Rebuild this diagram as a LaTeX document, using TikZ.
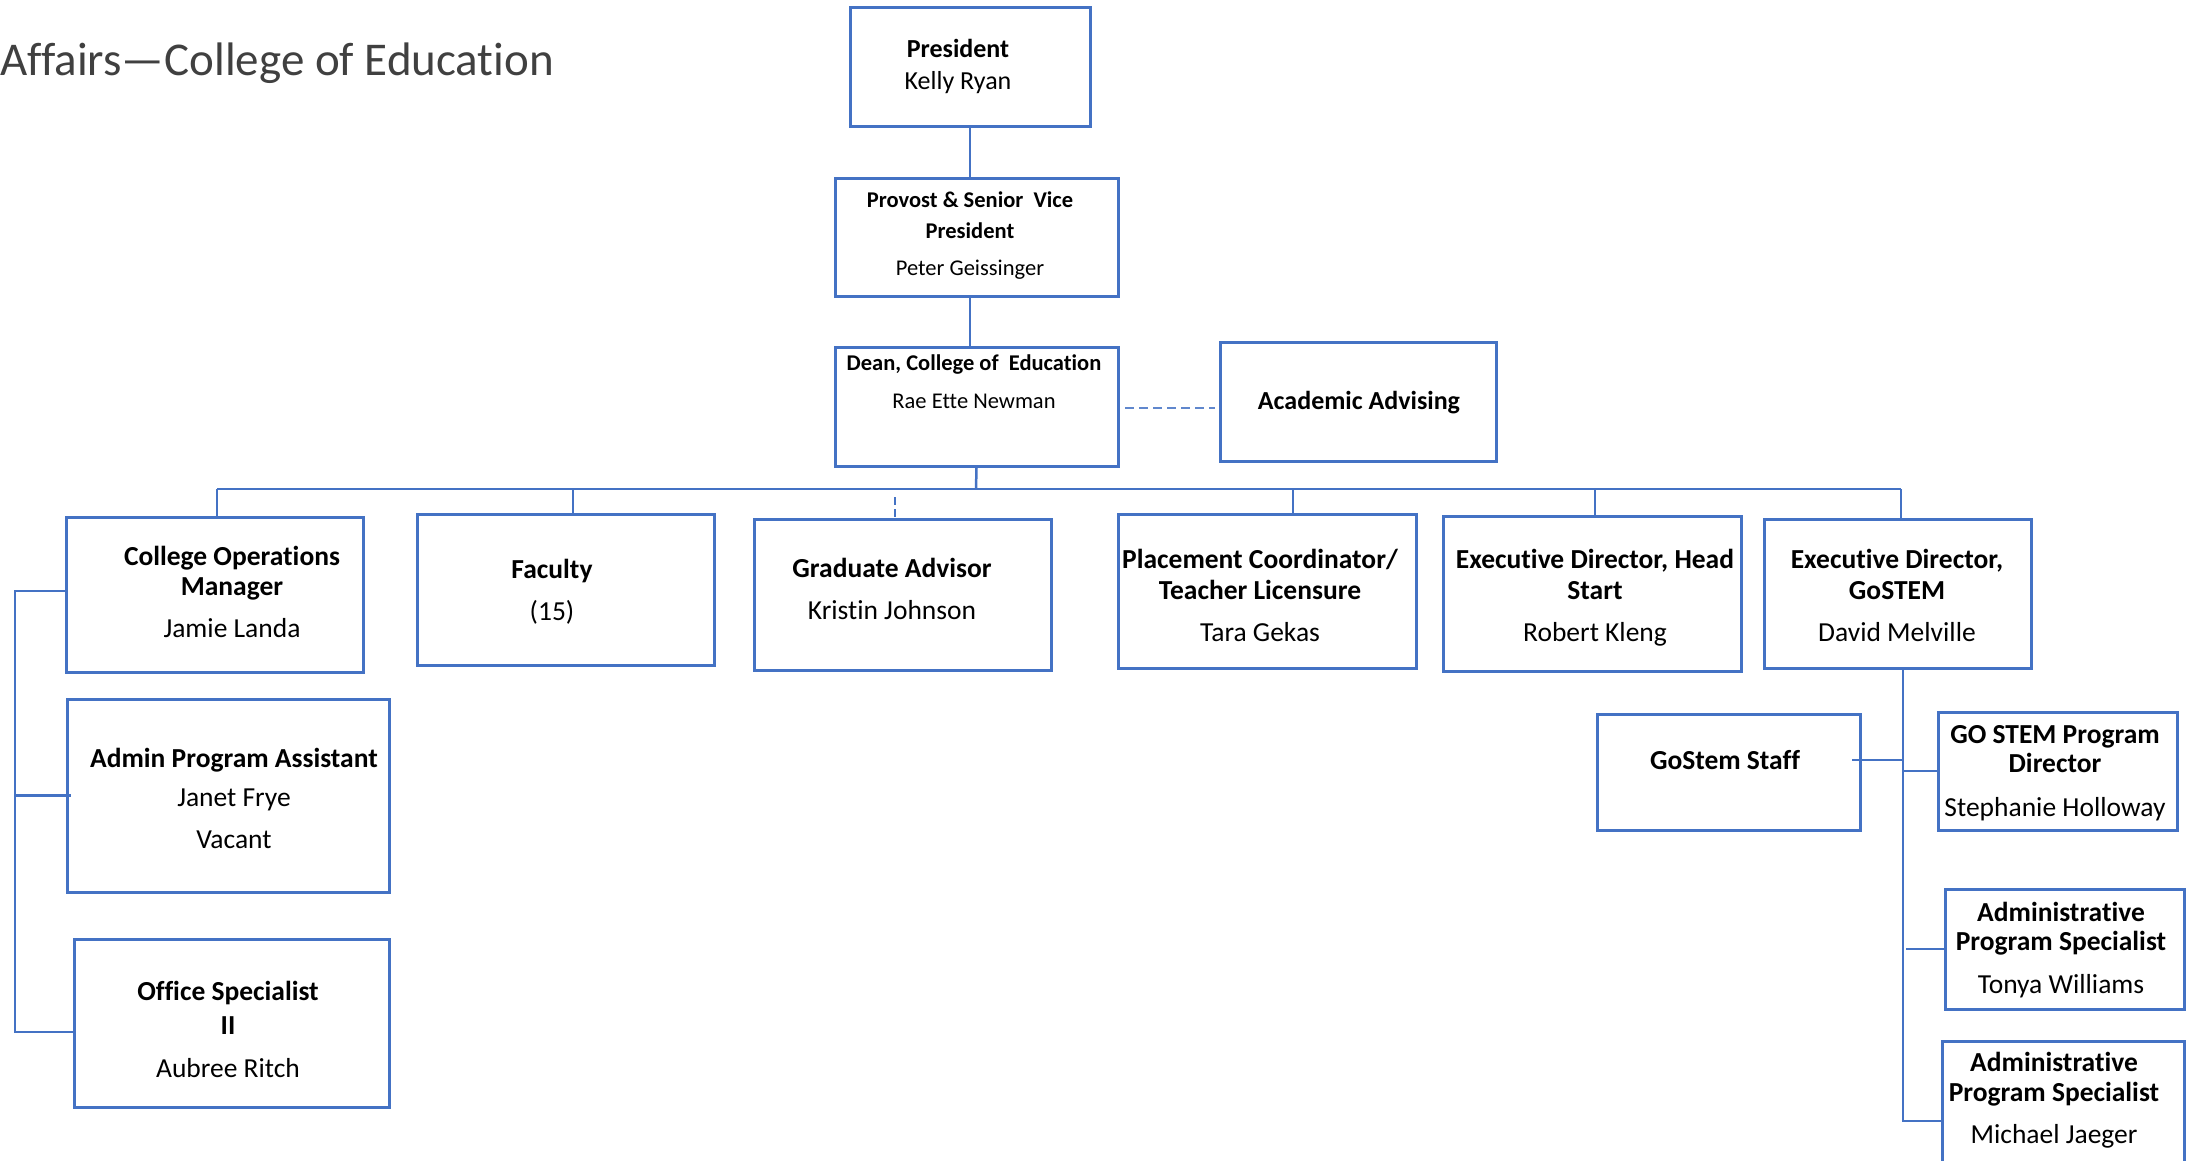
\documentclass[tikz,border=0pt]{standalone}
\usepackage{fontspec}
\setmainfont{Carlito}[Ligatures=NoCommon]
\usetikzlibrary{calc}
\definecolor{obl}{HTML}{4472C4}
\tikzset{
  box/.style={draw=obl, line width=3pt, rectangle, inner sep=0pt},
  conn/.style={draw=obl, line width=2.5pt},
  dconn/.style={draw=obl!85, line width=2.2pt, dash pattern=on 9pt off 5pt},
  tl/.style={anchor=base, inner sep=0pt},
  hd/.style={font=\fontsize{27.5}{30}\selectfont\bfseries},
  nm/.style={font=\fontsize{27.5}{30}\selectfont},
  hdt/.style={font=\fontsize{26}{28}\selectfont\bfseries},
  nmt/.style={font=\fontsize{26}{28}\selectfont},
  hds/.style={font=\fontsize{22.5}{25}\selectfont\bfseries},
  nms/.style={font=\fontsize{22.5}{25}\selectfont},
}
\newcommand\mkbox[5]{\node[box, minimum width={#4-#2}, minimum height={#5-#3}] (#1) at ({(#2+#4)/2},{(#3+#5)/2}) {};}
\newcommand\txl[5]{\node[tl,#4] (#1) at (#2,#3) {#5};}
\begin{document}
\begin{tikzpicture}[x=1pt,y=-1pt]
\useasboundingbox (0,0) rectangle (2192,1160);
% title
\node[anchor=base west, inner sep=0pt, font=\fontsize{47}{50}\selectfont, text=black!75] (title) at (0,75) {Affairs—College of Education};
% boxes
\mkbox{pres}{850}{7}{1090}{126}
\mkbox{prov}{835}{178}{1118}{296}
\mkbox{dean}{835}{347}{1118}{466}
\mkbox{aa}{1220}{342}{1496}{461}
\mkbox{com}{66}{517}{363}{672}
\mkbox{fac}{417}{514}{714}{665}
\mkbox{ga}{754}{519}{1051}{670}
\mkbox{pc}{1118}{514}{1416}{668}
\mkbox{hs}{1443}{516}{1741}{671}
\mkbox{gs}{1764}{519}{2031}{668}
\mkbox{apa}{67}{699}{389}{892}
\mkbox{os}{74}{939}{389}{1107}
\mkbox{gss}{1597}{714}{1860}{830}
\mkbox{gpd}{1938}{712}{2177}{830}
\mkbox{aps1}{1945}{889}{2184}{1009}
\mkbox{aps2}{1942}{1041}{2184}{1200}
% texts
\txl{t1}{958}{57}{hdt}{President}
\txl{t2}{958}{89}{nmt}{Kelly Ryan}
\txl{t3}{970}{207}{hds}{Provost \& Senior\ \ Vice}
\txl{t4}{970}{238}{hds}{President}
\txl{t5}{970}{275}{nms}{Peter Geissinger}
\txl{t6}{974}{370}{hds}{Dean, College of\ \ Education}
\txl{t7}{974}{408}{nms}{Rae Ette Newman}
\txl{t8}{1359}{409}{hdt}{Academic Advising}
\txl{t9}{232}{565}{hd}{College Operations}
\txl{t10}{232}{595}{hd}{Manager}
\txl{t11}{232}{637}{nm}{Jamie Landa}
\txl{t12}{552}{578}{hd}{Faculty}
\txl{t13}{552}{620}{nm}{(15)}
\txl{t14}{892}{577}{hd}{Graduate Advisor}
\txl{t15}{892}{619}{nm}{Kristin Johnson}
\txl{t16}{1260}{568}{hd}{Placement Coordinator/}
\txl{t17}{1260}{599}{hd}{Teacher Licensure}
\txl{t18}{1260}{641}{nm}{Tara Gekas}
\txl{t19}{1595}{568}{hd}{Executive Director, Head}
\txl{t20}{1595}{599}{hd}{Start}
\txl{t21}{1595}{641}{nm}{Robert Kleng}
\txl{t22}{1897}{568}{hd}{Executive Director,}
\txl{t23}{1897}{599}{hd}{GoSTEM}
\txl{t24}{1897}{641}{nm}{David Melville}
\txl{t25}{234}{767}{hd}{Admin Program Assistant}
\txl{t26}{234}{806}{nm}{Janet Frye}
\txl{t27}{234}{848}{nm}{Vacant}
\txl{t28}{228}{1000}{hd}{Office Specialist}
\txl{t29}{228}{1034}{hd}{II}
\txl{t30}{228}{1077}{nm}{Aubree Ritch}
\txl{t31}{1725}{769}{hd}{GoStem Staff}
\txl{t32}{2055}{743}{hd}{GO STEM Program}
\txl{t33}{2055}{772}{hd}{Director}
\txl{t34}{2055}{816}{nm}{Stephanie Holloway}
\txl{t35}{2061}{921}{hd}{Administrative}
\txl{t36}{2061}{950}{hd}{Program Specialist}
\txl{t37}{2061}{993}{nm}{Tonya Williams}
\txl{t38}{2054}{1071}{hd}{Administrative}
\txl{t39}{2054}{1101}{hd}{Program Specialist}
\txl{t40}{2054}{1143}{nm}{Michael Jaeger}
% connectors top
\draw[conn] (pres.south) -- (pres.south |- prov.north);
\draw[conn] (pres.south |- prov.south) -- (pres.south |- dean.north);
\coordinate (dsh) at (1125,408);
\draw[dconn] (dsh) -- ($(dsh -| aa.west)+(-4,0)$);
\coordinate (bus) at (976,489);
\coordinate (busL) at (217,489);
\coordinate (busR) at (1901,489);
\draw[conn] (dean.south) -- (bus);
\draw[conn] (busL) -- (busR);
\coordinate (dF) at (573,489);
\coordinate (dG) at (895,497);
\coordinate (dP) at (1293,489);
\coordinate (dH) at (1595,489);
\draw[conn] (busL) -- (busL |- com.north);
\draw[conn] (dF) -- (dF |- fac.north);
\draw[draw=obl, line width=2pt, dash pattern=on 8pt off 4pt] (dG) -- (dG |- ga.north);
\draw[conn] (dP) -- (dP |- pc.north);
\draw[conn] (dH) -- (dH |- hs.north);
\draw[conn] (busR) -- (busR |- gs.north);
% left bracket
\coordinate (lb) at (15,591);
\coordinate (lbo) at (15,1032);
\draw[conn] (com.west |- lb) -- (lb) -- (lbo) -- (lbo -| os.west);
\draw[conn] (lb |- apa.west) -- ($(apa.west)+(5,0)$);
% right tree
\coordinate (rv) at (1903,668);
\coordinate (rb) at (1903,1121);
\draw[conn] (rv) -- (rb) -- (rb -| aps2.west);
\coordinate (gsy) at (1852,760);
\draw[conn] (gsy) -- (gsy -| rv);
\draw[conn] (rv |- gpd.west) -- (gpd.west);
\draw[conn] ($(rv |- aps1.west)+(3,0)$) -- (aps1.west);
\end{tikzpicture}
\end{document}
